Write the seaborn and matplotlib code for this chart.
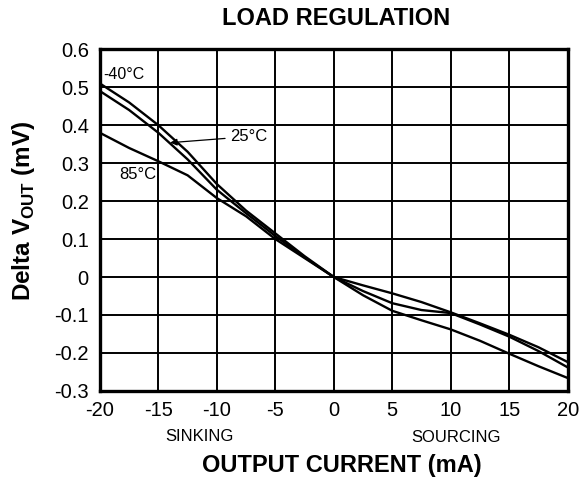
import numpy as np
import pandas as pd
import matplotlib
matplotlib.use("Agg")
import matplotlib.pyplot as plt
import seaborn as sns

# output current (mA), negative = sinking, positive = sourcing
current = [-20, -17.5, -15, -12.5, -10, -7.5, -5, -2.5, 0,
           2.5, 5, 7.5, 10, 12.5, 15, 17.5, 20]

# delta Vout (mV)
dv_m40 = [0.51, 0.46, 0.40, 0.33, 0.245, 0.175, 0.115, 0.055, 0.0,
          -0.048, -0.089, -0.114, -0.138, -0.168, -0.202, -0.235, -0.266]
dv_25 = [0.49, 0.44, 0.38, 0.31, 0.23, 0.168, 0.108, 0.052, 0.0,
         -0.037, -0.069, -0.087, -0.095, -0.125, -0.157, -0.195, -0.238]
dv_85 = [0.38, 0.34, 0.305, 0.268, 0.208, 0.16, 0.10, 0.05, 0.0,
         -0.022, -0.043, -0.066, -0.093, -0.122, -0.152, -0.185, -0.224]

xticks = [-20, -15, -10, -5, 0, 5, 10, 15, 20]
yticks = [-0.3, -0.2, -0.1, 0, 0.1, 0.2, 0.3, 0.4, 0.5, 0.6]
ytick_labels = ["-0.3", "-0.2", "-0.1", "0", "0.1", "0.2", "0.3", "0.4", "0.5", "0.6"]

df = pd.DataFrame({
    "current": current * 3,
    "dv": dv_m40 + dv_25 + dv_85,
    "temp": ["-40°C"] * len(current) + ["25°C"] * len(current) + ["85°C"] * len(current),
})

sns.set_style("white")
plt.rcParams["font.family"] = ["Liberation Sans", "DejaVu Sans"]
plt.rcParams["mathtext.fontset"] = "custom"
plt.rcParams["mathtext.rm"] = "Liberation Sans"
plt.rcParams["mathtext.bf"] = "Liberation Sans:bold"
plt.rcParams["text.color"] = "black"
plt.rcParams["axes.labelcolor"] = "black"

fig = plt.figure(figsize=(5.81, 4.79), dpi=100)
ax = fig.add_axes([0.172, 0.184, 0.805, 0.713])

sns.lineplot(data=df, x="current", y="dv", hue="temp",
             palette=["black", "black", "black"], linewidth=1.7,
             legend=False, ax=ax)

ax.set_xlim(-20, 20)
ax.set_ylim(-0.3, 0.6)
ax.set_xticks(xticks)
ax.set_xticklabels([str(t) for t in xticks])
ax.set_yticks(yticks)
ax.set_yticklabels(ytick_labels)
ax.tick_params(axis="both", length=0, labelsize=14.5, colors="black")
ax.tick_params(axis="x", pad=7)
ax.tick_params(axis="y", pad=8)
ax.grid(True, color="black", linewidth=1.4)
for s in ax.spines.values():
    s.set_color("black")
    s.set_linewidth(2.4)

ax.set_xlabel("")
ax.set_ylabel("")

fig.text(0.578, 0.962, "LOAD REGULATION", fontsize=17,
         fontweight="bold", ha="center", va="center")
fig.text(0.589, 0.029, "OUTPUT CURRENT (mA)", fontsize=17,
         fontweight="bold", ha="center", va="center")
fig.text(0.343, 0.088, "SINKING", fontsize=12, ha="center", va="center")
fig.text(0.785, 0.086, "SOURCING", fontsize=12, ha="center", va="center")
fig.text(0.040, 0.559, r"Delta V$_\mathbf{OUT}$ (mV)", fontsize=17.5,
         fontweight="bold", rotation=90, ha="center", va="center")

ax.text(-19.7, 0.534, "-40°C", fontsize=11.5, ha="left", va="center")
ax.text(-15.2, 0.27, "85°C", fontsize=12, ha="right", va="center")
ax.annotate("25°C", xy=(-14.0, 0.354), xytext=(-8.9, 0.37),
            fontsize=12, ha="left", va="center",
            arrowprops=dict(arrowstyle="-|>", color="black", lw=0.9,
                            mutation_scale=10, shrinkA=1, shrinkB=0))

fig.savefig("out.png", dpi=100)
